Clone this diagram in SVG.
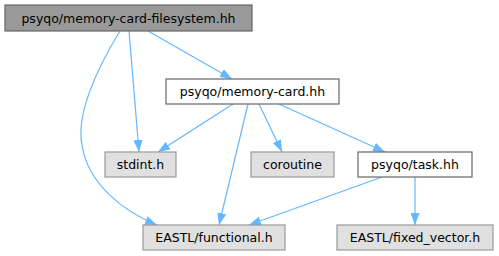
<svg xmlns="http://www.w3.org/2000/svg" width="499" height="256" viewBox="0 0 499 256">
<defs>
<marker id="arr" viewBox="0 0 12 9" refX="12" refY="4.5" markerWidth="12" markerHeight="9" markerUnits="userSpaceOnUse" orient="auto">
<path d="M0,0 L12,4.5 L0,9 z" fill="#63b8ff"/>
</marker>
<style>
.e{fill:none;stroke:#63b8ff;stroke-width:1.2;marker-end:url(#arr)}
.t{font-family:"DejaVu Sans",sans-serif;font-size:12.5px;text-anchor:middle;fill:#000}
.main{fill:#999999;stroke:#666666;stroke-width:1.2}
.w{fill:#ffffff;stroke:#666666;stroke-width:1.2}
.g{fill:#e0e0e0;stroke:#999999;stroke-width:1.2}
</style>
</defs>
<rect width="499" height="256" fill="#ffffff"/>
<g id="edges">
<path class="e" d="M148,31 L232,79"/>
<path class="e" d="M129,31 L139,152"/>
<path class="e" d="M120,31 C96,70 76,115 82,145 C88,185 125,212 157,225"/>
<path class="e" d="M233,104 L158,152"/>
<path class="e" d="M248,104 L219,225"/>
<path class="e" d="M259,104 L282,152"/>
<path class="e" d="M279,104 L385,152"/>
<path class="e" d="M382,177 L249,225"/>
<path class="e" d="M415,177 L415,225"/>
</g>
<g id="node-filesystem">
<rect class="main" x="5" y="5" width="247" height="26"/>
<text class="t" x="128.5" y="22.5">psyqo/memory-card-filesystem.hh</text>
</g>
<g id="node-memory-card">
<rect class="w" x="166" y="79" width="173" height="25"/>
<text class="t" x="252.5" y="96">psyqo/memory-card.hh</text>
</g>
<g id="node-stdint">
<rect class="g" x="105" y="152" width="71" height="25"/>
<text class="t" x="140.5" y="169">stdint.h</text>
</g>
<g id="node-coroutine">
<rect class="g" x="251" y="152" width="83" height="25"/>
<text class="t" x="292.5" y="169">coroutine</text>
</g>
<g id="node-task">
<rect class="w" x="358" y="152" width="114" height="25"/>
<text class="t" x="415" y="169">psyqo/task.hh</text>
</g>
<g id="node-functional">
<rect class="g" x="143" y="225" width="142" height="25"/>
<text class="t" x="214" y="242">EASTL/functional.h</text>
</g>
<g id="node-fixed-vector">
<rect class="g" x="337" y="225" width="156" height="25"/>
<text class="t" x="415" y="242">EASTL/fixed_vector.h</text>
</g>
</svg>
